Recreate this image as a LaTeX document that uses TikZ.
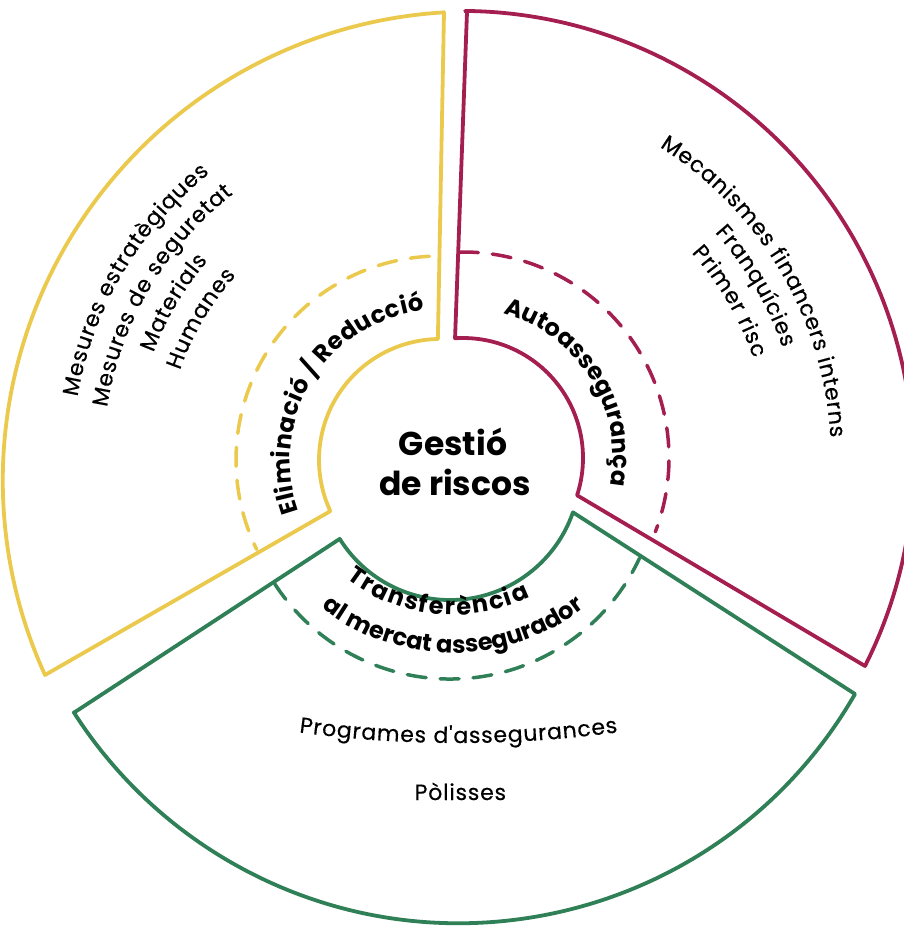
\documentclass[tikz,border=0pt]{standalone}
\usepackage{fontspec}
\setmainfont{Poppins}
\newfontface\itface{Poppins}[FakeBold=0.4]
\usetikzlibrary{calc,decorations.text}
\definecolor{ycol}{HTML}{EAC94C}
\definecolor{rcol}{HTML}{A41E50}
\definecolor{gcol}{HTML}{2F7F57}
\newcommand\labfont{\bfseries\fontsize{24}{28}\selectfont}
\newcommand\itfont{\itface\fontsize{22}{26}\selectfont\kern0.8pt}
\begin{document}
\begin{tikzpicture}[x=1pt,y=1pt,
  outline/.style={line width=3.8pt, line join=round, line cap=round},
  dashring/.style={line width=3.5pt, dash pattern=on 19pt off 14pt, line cap=round},
  curvetext/.style={decorate, decoration={text along path, text align=center, text={#1}}}
]
\clip (0,0) rectangle (904,-926);
\useasboundingbox (0,0) rectangle (904,-926);

% centres
\coordinate (YC) at (440,-460);
\coordinate (RC) at (463,-458);
\coordinate (GC) at (450,-470);
\coordinate (GT) at (453,-440);
\coordinate (GP) at (458,457);

% yellow sector
\draw[outline, ycol] (444,-12) -- ($(YC)+(91:121pt)$)
  arc[start angle=91, end angle=205, radius=121pt] -- (45,-675)
  arc[start angle=204.5, end angle=93.4, radius=469pt] -- cycle;
\draw[dashring, ycol] ($(YC)+(93:204pt)$) arc[start angle=93, end angle=206, radius=204pt];

% crimson sector
\draw[outline, rcol] (467,-12) -- ($(RC)+(93.8:120pt)$)
  arc[start angle=93.8, end angle=-18.1, radius=120pt] -- (865,-666)
  arc[start angle=-26.7, end angle=89.5, radius=452pt] -- cycle;
\draw[dashring, rcol] ($(RC)+(91:206pt)$) arc[start angle=91, end angle=-21, radius=206pt];

% green sector
\draw[outline, gcol] (75,-712) -- ($(GC)+(212:130pt)$)
  arc[start angle=212, end angle=341, radius=130pt] -- (855,-694)
  arc[start angle=330.1, end angle=212.6, radius=457pt] -- cycle;
\draw[dashring, gcol] ($(GC)+(213:209pt)$) arc[start angle=213, end angle=335, radius=209pt];

% centre text
\node[anchor=base, font=\bfseries\fontsize{33}{40}\selectfont] (g1) at (453,-455) {Gestió};
\node[anchor=base, font=\bfseries\fontsize{33}{40}\selectfont] (g2) at (455,-495) {de riscos};

% sector labels
\path[curvetext={|\labfont\kern0.4pt|Eliminació / Reducció}] ($(YC)+(213:150pt)$) arc[start angle=213, end angle=83, radius=150pt];
\path[curvetext={|\labfont|Autoassegurança}] ($(RC)+(92:150pt)$) arc[start angle=92, end angle=-28, radius=150pt];
\path[curvetext={|\labfont\kern1.8pt|Transferència}] ($(GT)+(209:175pt)$) arc[start angle=209, end angle=319, radius=175pt];
\path[curvetext={|\labfont|al mercat assegurador}] ($(GT)+(210:213pt)$) arc[start angle=210, end angle=330, radius=213pt];

% yellow items
\path[curvetext={|\itfont|Mesures estratègiques}] ($(YC)+(224.5:368pt)$) arc[start angle=224.5, end angle=74.5, radius=368pt];
\path[curvetext={|\itfont|Mesures de seguretat}] ($(YC)+(224.5:337pt)$) arc[start angle=224.5, end angle=74.5, radius=337pt];
\path[curvetext={|\itfont|Materials}] ($(YC)+(224.5:306pt)$) arc[start angle=224.5, end angle=74.5, radius=306pt];
\path[curvetext={|\itfont|Humanes}] ($(YC)+(224.5:275pt)$) arc[start angle=224.5, end angle=74.5, radius=275pt];

% crimson items
\path[curvetext={|\itfont|Mecanismes financers interns}] ($(RC)+(105.5:368pt)$) arc[start angle=105.5, end angle=-44.5, radius=368pt];
\path[curvetext={|\itfont|Franquícies}] ($(RC)+(105.5:338pt)$) arc[start angle=105.5, end angle=-44.5, radius=338pt];
\path[curvetext={|\itfont|Primer risc}] ($(RC)+(105.5:307pt)$) arc[start angle=105.5, end angle=-44.5, radius=307pt];

% green items
\path[curvetext={|\itfont|Programes d'assegurances}] ($(GP)+(258:1200pt)$) arc[start angle=258, end angle=282, radius=1200pt];
\coordinate (polA) at (330,-800);
\coordinate (polB) at (590,-800);
\path[curvetext={|\itfont|Pòlisses}] (polA) -- (polB);
\end{tikzpicture}
\end{document}
